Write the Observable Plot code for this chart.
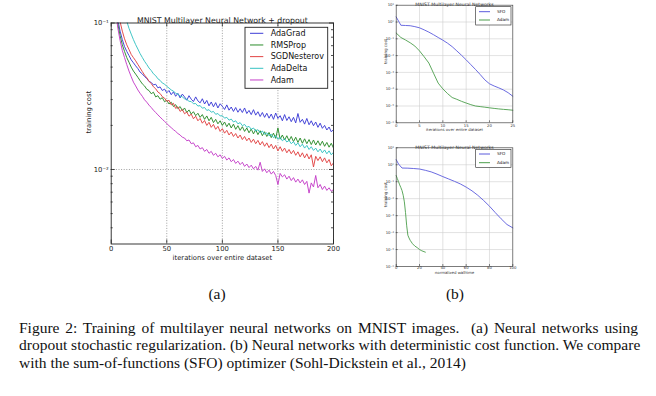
<!DOCTYPE html>
<html><head><meta charset="utf-8">
<script src="https://cdn.jsdelivr.net/npm/d3@7"></script>
<script src="https://cdn.jsdelivr.net/npm/@observablehq/plot@0.6"></script>
<style>
html,body{margin:0;padding:0;background:#fff;}
#page{position:relative;width:656px;height:396px;overflow:hidden;background:#fff;}
.abs{position:absolute;}
.cap{position:absolute;left:19px;width:619px;font-family:"Liberation Serif","Times New Roman",serif;font-size:15.5px;line-height:17.7px;color:#111;white-space:nowrap;}
.just{text-align:justify;text-align-last:justify;}
.sub{position:absolute;width:60px;text-align:center;font-family:"Liberation Serif","Times New Roman",serif;font-size:15.5px;line-height:18px;color:#111;}
</style></head>
<body><div id="page">
<div id="chartA" class="abs" style="left:0;top:0"></div>
<div id="chartB1" class="abs" style="left:360px;top:0"></div>
<div id="chartB2" class="abs" style="left:360px;top:140px"></div>
<svg id="legends" class="abs" style="left:0;top:0" width="656" height="300"></svg>
<div class="sub" style="left:187px;top:285px">(a)</div>
<div class="sub" style="left:425px;top:285px">(b)</div>
<div class="cap just" style="top:318.5px">Figure 2: Training of multilayer neural networks on MNIST images.&nbsp; (a) Neural networks using</div>
<div class="cap just" style="top:336.3px">dropout stochastic regularization. (b) Neural networks with deterministic cost function. We compare</div>
<div class="cap" style="top:354.1px">with the sum-of-functions (SFO) optimizer (Sohl-Dickstein et al., 2014)</div>
</div>
<script>
// ---------- (a) data ----------
const mainTitle = "MNIST Multilayer Neural Network + dropout";
const mainXLabel = "iterations over entire dataset";
const yLabel = "training cost";
const mainNames = ["AdaGrad","RMSProp","SGDNesterov","AdaDelta","Adam"];
const mainColors = ["#3d3dd6","#2b8c2b","#e24343","#36c2c2","#c43ec8"];
const mainXTicks = [0,50,100,150,200];
const mainYTicks = [0.01,0.1];
const mainYTickLabels = ["10⁻²","10⁻¹"];
const mainYMinor = [0.004,0.005,0.006,0.007,0.008,0.009,0.02,0.03,0.04,0.05,0.06,0.07,0.08,0.09];
const iters = [0,2,4,6,8,10,12,14,16,18,20,22,24,26,28,30,32,34,36,38,40,42,44,46,48,50,52,54,56,58,60,62,64,66,68,70,72,74,76,78,80,82,84,86,88,90,92,94,96,98,100,102,104,106,108,110,112,114,116,118,120,122,124,126,128,130,132,134,136,138,140,142,144,146,148,150,152,154,156,158,160,162,164,166,168,170,172,174,176,178,180,182,184,186,188,190,192,194,196,198,200];
const adagrad = [
0.40,0.22,0.14,0.105,0.088,0.077,0.069,0.064,0.060,0.056,
0.0535,0.051,0.0488,0.0462,0.0449,0.0431,0.0418,0.0399,0.0393,0.0378,
0.0382,0.0361,0.0366,0.0346,0.0354,0.0334,0.0346,0.0324,0.0339,0.0316,
0.0331,0.0308,0.0327,0.0313,0.0297,0.0319,0.0302,0.0291,0.0313,0.0294,
0.0285,0.0304,0.0280,0.0296,0.0272,0.0289,0.0268,0.0286,0.0263,0.0281,
0.0270,0.0257,0.0276,0.0254,0.0267,0.0249,0.0265,0.0246,0.0260,0.0245,
0.0263,0.0241,0.0253,0.0237,0.0256,0.0235,0.0248,0.0230,0.0245,0.0227,
0.0242,0.0224,0.0239,0.0220,0.0243,0.0223,0.0233,0.0215,0.0237,0.0216,
0.0229,0.0212,0.0227,0.0208,0.0241,0.0210,0.0220,0.0204,0.0223,0.0202,
0.0215,0.0199,0.0211,0.0194,0.0207,0.0191,0.0200,0.0186,0.0195,0.0181,
0.0187];
const rmsprop = [
0.38,0.20,0.13,0.098,0.082,0.071,0.064,0.058,0.054,0.050,
0.047,0.0448,0.0426,0.0404,0.0384,0.0372,0.0353,0.0346,0.0329,0.0337,
0.0313,0.0319,0.0302,0.0309,0.0290,0.0297,0.0280,0.0288,0.0269,0.0277,
0.0260,0.0269,0.0252,0.0263,0.0245,0.0255,0.0239,0.0248,0.0233,0.0242,
0.0227,0.0237,0.0220,0.0232,0.0215,0.0227,0.0209,0.0220,0.0205,0.0215,
0.0200,0.0211,0.0196,0.0207,0.0192,0.0204,0.0188,0.0199,0.0185,0.0196,
0.0182,0.0192,0.0178,0.0189,0.0175,0.0187,0.0173,0.0184,0.0170,0.0181,
0.0168,0.0179,0.0165,0.0177,0.0163,0.0192,0.0161,0.0172,0.0159,0.0170,
0.0157,0.0168,0.0155,0.0166,0.0153,0.0164,0.0151,0.0162,0.0150,0.0160,
0.0148,0.0159,0.0147,0.0157,0.0146,0.0156,0.0144,0.0153,0.0142,0.0151,
0.0140];
const sgdNesterov = [
0.45,0.26,0.17,0.125,0.102,0.088,0.078,0.071,0.066,0.061,
0.058,0.0552,0.0521,0.0493,0.0466,0.0441,0.0423,0.0401,0.0386,0.0367,
0.0356,0.0338,0.0330,0.0314,0.0307,0.0292,0.0297,0.0276,0.0283,0.0261,
0.0268,0.0249,0.0257,0.0240,0.0247,0.0231,0.0239,0.0222,0.0231,0.0215,
0.0223,0.0207,0.0216,0.0200,0.0210,0.0194,0.0203,0.0188,0.0197,0.0182,
0.0190,0.0177,0.0185,0.0172,0.0180,0.0168,0.0176,0.0164,0.0172,0.0160,
0.0168,0.0157,0.0164,0.0153,0.0161,0.0150,0.0158,0.0147,0.0155,0.0144,
0.0152,0.0141,0.0149,0.0138,0.0146,0.0134,0.0143,0.0133,0.0140,0.0130,
0.0137,0.0128,0.0135,0.0125,0.0132,0.0122,0.0130,0.0120,0.0128,0.0118,
0.0126,0.0104,0.0123,0.0115,0.0122,0.0113,0.0120,0.0111,0.0117,0.0106,
0.0111];
const adadelta = [
0.9,0.5,0.32,0.23,0.175,0.142,0.119,0.103,0.092,0.084,
0.077,0.0712,0.0664,0.0618,0.0582,0.0548,0.0521,0.0493,0.0474,0.0450,
0.0437,0.0416,0.0406,0.0389,0.0383,0.0369,0.0360,0.0349,0.0343,0.0331,
0.0327,0.0318,0.0313,0.0304,0.0301,0.0292,0.0291,0.0281,0.0282,0.0271,
0.0273,0.0262,0.0265,0.0253,0.0256,0.0246,0.0249,0.0238,0.0241,0.0232,
0.0233,0.0224,0.0227,0.0217,0.0221,0.0211,0.0215,0.0205,0.0209,0.0199,
0.0203,0.0194,0.0197,0.0188,0.0192,0.0183,0.0187,0.0178,0.0183,0.0174,
0.0178,0.0170,0.0174,0.0165,0.0170,0.0161,0.0166,0.0157,0.0162,0.0154,
0.0158,0.0150,0.0155,0.0146,0.0152,0.0143,0.0149,0.0140,0.0146,0.0137,
0.0143,0.0135,0.0140,0.0132,0.0138,0.0130,0.0136,0.0128,0.0134,0.0126,
0.0131];
const adam = [
0.35,0.19,0.12,0.092,0.076,0.065,0.058,0.052,0.047,0.043,
0.0395,0.0372,0.0349,0.0331,0.0316,0.0299,0.0288,0.0275,0.0265,0.0254,
0.0245,0.0236,0.0228,0.0220,0.0213,0.0206,0.0199,0.0193,0.0187,0.0182,
0.0176,0.0172,0.0166,0.0164,0.0157,0.0159,0.0150,0.0152,0.0143,0.0146,
0.0138,0.0141,0.0133,0.0137,0.0129,0.0133,0.0125,0.0129,0.0122,0.0126,
0.0119,0.0123,0.0116,0.0120,0.0113,0.0117,0.0110,0.0114,0.0108,0.0112,
0.0105,0.0109,0.0103,0.0107,0.0101,0.0105,0.0099,0.0112,0.0097,0.0101,
0.0095,0.0099,0.0093,0.0097,0.0091,0.0079,0.0094,0.0089,0.0092,0.0086,
0.0090,0.0084,0.0088,0.0082,0.0086,0.0081,0.0085,0.0079,0.0083,0.0069,
0.0081,0.0076,0.0091,0.0075,0.0079,0.0073,0.0077,0.0072,0.0075,0.0071,
0.0073];

// ---------- (b) data ----------
const smallTitle = "MNIST Multilayer Neural Networks";
const smallNames = ["SFO","Adam"];
const smallColors = ["#5a5adc","#4c9e4c"];
const smallYTicks = [1e-6,1e-5,1e-4,1e-3,1e-2,1e-1,1,10];
const smallYTickLabels = ["10⁻⁶","10⁻⁵","10⁻⁴","10⁻³","10⁻²","10⁻¹","10⁰","10¹"];
const iterXLabel = "iterations over entire dataset";
const iterXTicks = [0,5,10,15,20,25];
const sfoIterX = [0,1,2,3,4,5,6,7,8,9,10,11,12,13,14,15,16,17,18,19,20,21,22,23,24,25];
const sfoIterY = [2.0,0.64,0.62,0.6,0.53,0.45,0.34,0.25,0.175,0.12,0.083,0.055,0.034,0.019,0.0105,0.0056,0.0029,0.0015,0.00075,0.00036,0.00021,0.000155,0.00012,0.00009,0.000062,0.000038];
const adamIterX = [0,1,2,3,4,5,6,7,8,9,10,11,12,13,14,15,16,17,18,19,20,21,22,23,24,25];
const adamIterY = [0.22,0.12,0.085,0.058,0.037,0.019,0.0085,0.0036,0.0009,0.00023,0.000105,0.000055,0.000032,0.000025,0.000019,0.000015,0.000012,0.00001,0.0000092,0.0000085,0.0000078,0.0000072,0.0000067,0.0000063,0.000006,0.0000056];
const timeXLabel = "normalized walltime";
const timeXTicks = [0,20,40,60,80,100];
const sfoTimeX = [0,2,5,10,15,20,25,30,35,40,45,50,55,60,65,70,75,80,85,90,95,100];
const sfoTimeY = [2.0,1.1,0.64,0.63,0.6,0.56,0.47,0.38,0.28,0.2,0.145,0.105,0.074,0.048,0.029,0.0158,0.0078,0.0036,0.0015,0.00065,0.0003,0.00019];
const adamTimeX = [0,1,2,3,4,5,6,7,8,9,10,11,12,14,16,18,20,22,25];
const adamTimeY = [0.23,0.15,0.1,0.065,0.045,0.03,0.016,0.0065,0.0015,0.00025,0.00007,0.000048,0.000035,0.000022,0.000016,0.000013,0.00001,0.0000084,0.000007];

const FONT = "DejaVu Sans";

// ---------- chart (a) ----------
(function(){
  const W = 345, H = 270;
  const fl = 110.7, fr = 333, ft = 22.5, fb = 243.5;
  const pw = fr - fl, ph = fb - ft;
  const series = [adagrad, rmsprop, sgdNesterov, adadelta, adam];
  const rows = series.flatMap((vals, k) => iters.map((x, i) => ({x, y: vals[i], name: mainNames[k]})));
  const tickStyle = {stroke: "#222", strokeWidth: 0.8};
  const svg = Plot.plot({
    width: W, height: H,
    marginLeft: fl, marginRight: W - fr, marginTop: ft, marginBottom: H - fb,
    x: {domain: [0, 200]},
    y: {type: "log", domain: [0.0031, 0.1]},
    color: {domain: mainNames, range: mainColors},
    style: {fontFamily: FONT, fontSize: "7px", background: "transparent", overflow: "visible", color: "#222"},
    marks: [
      Plot.ruleX(mainXTicks.slice(1, -1), {x: d => d, stroke: "#888", strokeWidth: 0.8, strokeDasharray: "1,1.6"}),
      Plot.ruleY([0.01], {y: d => d, stroke: "#888", strokeWidth: 0.8, strokeDasharray: "1,1.6"}),
      Plot.line(rows, {x: "x", y: "y", z: "name", stroke: "name", strokeWidth: 0.95, clip: true}),
      Plot.frame({stroke: "#222", strokeWidth: 0.9}),
      Plot.tickX(mainXTicks, {x: d => d, insetTop: ph - 4, ...tickStyle}),
      Plot.tickX(mainXTicks, {x: d => d, insetBottom: ph - 4, ...tickStyle}),
      Plot.tickY(mainYTicks, {y: d => d, insetRight: pw - 4, ...tickStyle}),
      Plot.tickY(mainYTicks, {y: d => d, insetLeft: pw - 4, ...tickStyle}),
      Plot.tickY(mainYMinor, {y: d => d, insetRight: pw - 2, ...tickStyle}),
      Plot.tickY(mainYMinor, {y: d => d, insetLeft: pw - 2, ...tickStyle}),
      Plot.axisX({ticks: mainXTicks, tickSize: 0, tickPadding: 2, fontSize: 6.8, label: null}),
      Plot.axisY({ticks: mainYTicks, tickSize: 0, tickPadding: 2.5, fontSize: 6.8, label: null,
                  tickFormat: d => mainYTickLabels[mainYTicks.indexOf(d)]}),
      Plot.text([mainTitle], {text: d => d, frameAnchor: "top", dy: -6, fontSize: 7.8}),
      Plot.text([mainXLabel], {text: d => d, frameAnchor: "bottom", dy: 15.5, fontSize: 6.8}),
      Plot.text([yLabel], {text: d => d, frameAnchor: "left", dx: -22.5, rotate: -90, fontSize: 6.8})
    ]
  });
  document.getElementById("chartA").appendChild(svg);
})();

// ---------- charts (b) ----------
function smallChart(el, cfg) {
  const W = 160, H = 140;
  const fl = 35.7, fr = 152.3;
  const pw = fr - fl, ph = cfg.fb - cfg.ft;
  const rows = cfg.series.flatMap(s => s.x.map((x, i) => ({x, y: s.y[i], name: s.name})));
  const tickStyle = {stroke: "#333", strokeWidth: 0.6};
  const svg = Plot.plot({
    width: W, height: H,
    marginLeft: fl, marginRight: W - fr, marginTop: cfg.ft, marginBottom: H - cfg.fb,
    x: {domain: [cfg.xticks[0], cfg.xticks[cfg.xticks.length - 1]]},
    y: {type: "log", domain: [1e-6, 10]},
    color: {domain: smallNames, range: smallColors},
    style: {fontFamily: FONT, fontSize: "4px", background: "transparent", overflow: "visible", color: "#333"},
    marks: [
      Plot.ruleX(cfg.xticks.slice(1, -1), {x: d => d, stroke: "#cfcfcf", strokeWidth: 0.6}),
      Plot.ruleY(smallYTicks.slice(1, -1), {y: d => d, stroke: "#cfcfcf", strokeWidth: 0.6}),
      Plot.line(rows, {x: "x", y: "y", z: "name", stroke: "name", strokeWidth: 0.9}),
      Plot.frame({stroke: "#444", strokeWidth: 0.7}),
      Plot.tickX(cfg.xticks, {x: d => d, insetTop: ph - 2, ...tickStyle}),
      Plot.tickY(smallYTicks, {y: d => d, insetRight: pw - 2, ...tickStyle}),
      Plot.axisX({ticks: cfg.xticks, tickSize: 0, tickPadding: cfg.xpad, fontSize: 3.8, label: null}),
      Plot.axisY({ticks: smallYTicks, tickSize: 0, tickPadding: 2.2, fontSize: 3.8, label: null,
                  tickFormat: d => smallYTickLabels[smallYTicks.indexOf(d)]}),
      Plot.text([smallTitle], {text: d => d, frameAnchor: "top", dy: cfg.tdy, fontSize: 4.6}),
      Plot.text([cfg.xlabel], {text: d => d, frameAnchor: "bottom", dy: cfg.xldy, fontSize: 3.9}),
      Plot.text([yLabel], {text: d => d, frameAnchor: "left", dx: -10.7, rotate: -90, fontSize: 4})
    ]
  });
  document.getElementById(el).appendChild(svg);
}
smallChart("chartB1", {
  ft: 4.7, fb: 122.3, xticks: iterXTicks, xlabel: iterXLabel, xpad: 1.2, tdy: -2, xldy: 8.2,
  series: [{name: "SFO", x: sfoIterX, y: sfoIterY}, {name: "Adam", x: adamIterX, y: adamIterY}]
});
smallChart("chartB2", {
  ft: 7.3, fb: 126, xticks: timeXTicks, xlabel: timeXLabel, xpad: 0.2, tdy: -2.3, xldy: 7,
  series: [{name: "SFO", x: sfoTimeX, y: sfoTimeY}, {name: "Adam", x: adamTimeX, y: adamTimeY}]
});

// ---------- legends (decoration) ----------
(function(){
  const g = d3.select("#legends");
  function legend(box, names, colors, rowY, line, textX, fs, lw) {
    g.append("rect").attr("x", box[0]).attr("y", box[1]).attr("width", box[2]).attr("height", box[3])
      .attr("fill", "#fff").attr("stroke", "#222").attr("stroke-width", lw);
    names.forEach((n, i) => {
      const y = rowY[0] + i * rowY[1];
      g.append("line").attr("x1", line[0]).attr("x2", line[1]).attr("y1", y).attr("y2", y)
        .attr("stroke", colors[i]).attr("stroke-width", 1);
      g.append("text").attr("x", textX).attr("y", y).attr("dy", "0.35em")
        .attr("font-family", FONT).attr("font-size", fs).attr("fill", "#111").text(n);
    });
  }
  legend([245, 27.3, 82.7, 61], mainNames, mainColors, [33.3, 11.67], [250, 263.3], 270.7, 8, 0.9);
  legend([475.7, 6.7, 35.3, 18.3], smallNames, smallColors, [11.7, 8.3], [479, 490], 497, 4.2, 0.6);
  legend([475.7, 149.3, 35.3, 18], smallNames, smallColors, [154, 8.7], [479, 490], 497, 4.2, 0.6);
})();
</script>
</body></html>
